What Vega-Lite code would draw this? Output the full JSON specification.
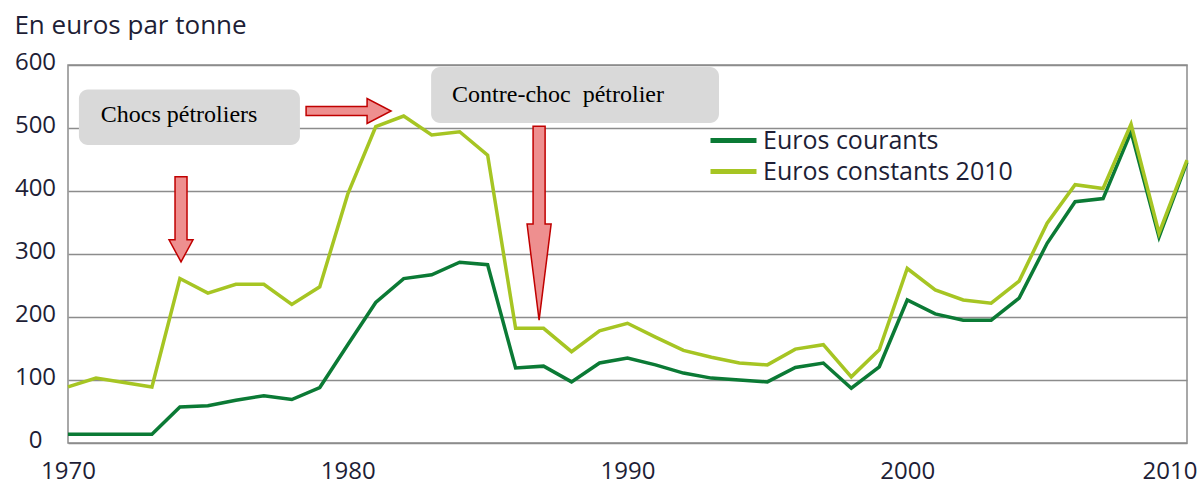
{
  "$schema": "https://vega.github.io/schema/vega-lite/v6.json",
  "width": 1119,
  "height": 378,
  "autosize": {"type": "none"},
  "padding": {"left": 68, "top": 65, "right": 15, "bottom": 41},
  "background": "white",
  "title": {"text": "En euros par tonne", "anchor": "start", "frame": "bounds", "fontSize": 26, "font": "Open Sans", "fontWeight": "normal", "color": "#1e1e36", "offset": 11},
  "config": {"view": {"stroke": "#8c8c8c", "strokeWidth": 1.5}, "font": "Open Sans"},
  "datasets": {
    "prix": [
      {"year": 1970, "serie": "Euros courants", "value": 14},
      {"year": 1971, "serie": "Euros courants", "value": 14},
      {"year": 1972, "serie": "Euros courants", "value": 14},
      {"year": 1973, "serie": "Euros courants", "value": 14},
      {"year": 1974, "serie": "Euros courants", "value": 57},
      {"year": 1975, "serie": "Euros courants", "value": 59},
      {"year": 1976, "serie": "Euros courants", "value": 68},
      {"year": 1977, "serie": "Euros courants", "value": 75},
      {"year": 1978, "serie": "Euros courants", "value": 69},
      {"year": 1979, "serie": "Euros courants", "value": 88},
      {"year": 1980, "serie": "Euros courants", "value": 156},
      {"year": 1981, "serie": "Euros courants", "value": 223},
      {"year": 1982, "serie": "Euros courants", "value": 261},
      {"year": 1983, "serie": "Euros courants", "value": 267},
      {"year": 1984, "serie": "Euros courants", "value": 287},
      {"year": 1985, "serie": "Euros courants", "value": 283},
      {"year": 1986, "serie": "Euros courants", "value": 119},
      {"year": 1987, "serie": "Euros courants", "value": 122},
      {"year": 1988, "serie": "Euros courants", "value": 97},
      {"year": 1989, "serie": "Euros courants", "value": 127},
      {"year": 1990, "serie": "Euros courants", "value": 135},
      {"year": 1991, "serie": "Euros courants", "value": 124},
      {"year": 1992, "serie": "Euros courants", "value": 111},
      {"year": 1993, "serie": "Euros courants", "value": 103},
      {"year": 1994, "serie": "Euros courants", "value": 100},
      {"year": 1995, "serie": "Euros courants", "value": 97},
      {"year": 1996, "serie": "Euros courants", "value": 120},
      {"year": 1997, "serie": "Euros courants", "value": 127},
      {"year": 1998, "serie": "Euros courants", "value": 87},
      {"year": 1999, "serie": "Euros courants", "value": 121},
      {"year": 2000, "serie": "Euros courants", "value": 227},
      {"year": 2001, "serie": "Euros courants", "value": 205},
      {"year": 2002, "serie": "Euros courants", "value": 195},
      {"year": 2003, "serie": "Euros courants", "value": 195},
      {"year": 2004, "serie": "Euros courants", "value": 230},
      {"year": 2005, "serie": "Euros courants", "value": 317},
      {"year": 2006, "serie": "Euros courants", "value": 383},
      {"year": 2007, "serie": "Euros courants", "value": 388},
      {"year": 2008, "serie": "Euros courants", "value": 494},
      {"year": 2009, "serie": "Euros courants", "value": 327},
      {"year": 2010, "serie": "Euros courants", "value": 446},
      {"year": 1970, "serie": "Euros constants 2010", "value": 89},
      {"year": 1971, "serie": "Euros constants 2010", "value": 103},
      {"year": 1972, "serie": "Euros constants 2010", "value": 96},
      {"year": 1973, "serie": "Euros constants 2010", "value": 89},
      {"year": 1974, "serie": "Euros constants 2010", "value": 261},
      {"year": 1975, "serie": "Euros constants 2010", "value": 238},
      {"year": 1976, "serie": "Euros constants 2010", "value": 252},
      {"year": 1977, "serie": "Euros constants 2010", "value": 252},
      {"year": 1978, "serie": "Euros constants 2010", "value": 220},
      {"year": 1979, "serie": "Euros constants 2010", "value": 248},
      {"year": 1980, "serie": "Euros constants 2010", "value": 395},
      {"year": 1981, "serie": "Euros constants 2010", "value": 502},
      {"year": 1982, "serie": "Euros constants 2010", "value": 519},
      {"year": 1983, "serie": "Euros constants 2010", "value": 489},
      {"year": 1984, "serie": "Euros constants 2010", "value": 494},
      {"year": 1985, "serie": "Euros constants 2010", "value": 457},
      {"year": 1986, "serie": "Euros constants 2010", "value": 182},
      {"year": 1987, "serie": "Euros constants 2010", "value": 182},
      {"year": 1988, "serie": "Euros constants 2010", "value": 145},
      {"year": 1989, "serie": "Euros constants 2010", "value": 178},
      {"year": 1990, "serie": "Euros constants 2010", "value": 190},
      {"year": 1991, "serie": "Euros constants 2010", "value": 168},
      {"year": 1992, "serie": "Euros constants 2010", "value": 147},
      {"year": 1993, "serie": "Euros constants 2010", "value": 136},
      {"year": 1994, "serie": "Euros constants 2010", "value": 127},
      {"year": 1995, "serie": "Euros constants 2010", "value": 124},
      {"year": 1996, "serie": "Euros constants 2010", "value": 149},
      {"year": 1997, "serie": "Euros constants 2010", "value": 156},
      {"year": 1998, "serie": "Euros constants 2010", "value": 105},
      {"year": 1999, "serie": "Euros constants 2010", "value": 148},
      {"year": 2000, "serie": "Euros constants 2010", "value": 277},
      {"year": 2001, "serie": "Euros constants 2010", "value": 243},
      {"year": 2002, "serie": "Euros constants 2010", "value": 227},
      {"year": 2003, "serie": "Euros constants 2010", "value": 222},
      {"year": 2004, "serie": "Euros constants 2010", "value": 257},
      {"year": 2005, "serie": "Euros constants 2010", "value": 349},
      {"year": 2006, "serie": "Euros constants 2010", "value": 410},
      {"year": 2007, "serie": "Euros constants 2010", "value": 404},
      {"year": 2008, "serie": "Euros constants 2010", "value": 506},
      {"year": 2009, "serie": "Euros constants 2010", "value": 333},
      {"year": 2010, "serie": "Euros constants 2010", "value": 449}
    ],
    "boites": [
      {"x1": 1970.39, "x2": 1978.29, "y1": 561, "y2": 473},
      {"x1": 1982.98, "x2": 1993.27, "y1": 597, "y2": 508}
    ],
    "textes": [
      {"year": 1971.17, "value": 509, "texte": "Chocs pétroliers"},
      {"year": 1983.73, "value": 541, "texte": "Contre-choc\u00a0 pétrolier"}
    ],
    "fleches": [
      {"sens": "droite", "year": 1980.03, "value": 527},
      {"sens": "bas1", "year": 1974.04, "value": 355},
      {"sens": "bas2", "year": 1986.84, "value": 349}
    ]
  },
  "layer": [
    {
      "data": {"name": "prix"},
      "mark": {"type": "line", "strokeWidth": 3.5},
      "encoding": {
        "x": {"field": "year", "type": "quantitative", "title": null,
          "scale": {"domain": [1970, 2010], "nice": false, "zero": false},
          "axis": {"values": [1970, 1980, 1990, 2000, 2010], "format": "d", "title": null, "grid": false, "ticks": false, "tickSize": 0, "domain": false,
            "labelFont": "Open Sans", "labelFontSize": 24, "labelColor": "#1e1e36", "labelPadding": 16,
            "labelAlign": {"condition": {"test": "datum.value == 2010", "value": "right"}, "value": "center"},
            "labelOffset": {"condition": {"test": "datum.value == 2010", "value": 10}, "value": 0},
            "labelBound": false, "labelOverlap": false}},
        "y": {"field": "value", "type": "quantitative", "title": null,
          "scale": {"domain": [0, 600], "nice": false},
          "axis": {"values": [0, 100, 200, 300, 400, 500, 600], "title": null, "grid": true, "gridColor": "#8c8c8c", "gridWidth": 1.5, "ticks": false, "tickSize": 0, "domain": false,
            "labelFont": "Open Sans", "labelFontSize": 24, "labelColor": "#1e1e36", "labelAlign": "center", "labelBaseline": "middle", "labelPadding": 33, "labelOffset": -3, "labelBound": false, "labelOverlap": false}},
        "color": {"field": "serie", "type": "nominal",
          "scale": {"domain": ["Euros courants", "Euros constants 2010"], "range": ["#0b7a35", "#a6c523"]},
          "legend": {"orient": "none", "legendX": 640, "legendY": 63, "title": null, "symbolType": "M-1,0L3.6,0", "symbolStrokeWidth": 5, "symbolSize": 400,
            "labelFont": "Open Sans", "labelFontSize": 25, "labelColor": "#1e1e36", "labelOffset": 30, "rowPadding": 5, "padding": 0, "labelLimit": 400}}
      }
    },
    {
      "data": {"name": "boites"},
      "mark": {"type": "rect", "fill": "#d9d9d9", "cornerRadius": 9},
      "encoding": {
        "x": {"field": "x1", "type": "quantitative", "title": null},
        "x2": {"field": "x2"},
        "y": {"field": "y1", "type": "quantitative", "title": null},
        "y2": {"field": "y2"}
      }
    },
    {
      "data": {"name": "textes"},
      "mark": {"type": "text", "font": "Liberation Serif", "fontSize": 24, "align": "left", "baseline": "alphabetic", "color": "#000000"},
      "encoding": {
        "x": {"field": "year", "type": "quantitative", "title": null},
        "y": {"field": "value", "type": "quantitative", "title": null},
        "text": {"field": "texte"}
      }
    },
    {
      "data": {"name": "fleches"},
      "transform": [{"filter": "datum.sens == 'droite'"}],
      "mark": {"type": "point", "filled": true, "fill": "#ee8f8f", "stroke": "#c00000", "strokeWidth": 1.5, "opacity": 1, "size": 7225,
        "shape": "M-1,-0.106L0.435,-0.106L0.435,-0.294L1,0L0.435,0.294L0.435,0.106L-1,0.106Z"},
      "encoding": {
        "x": {"field": "year", "type": "quantitative", "title": null},
        "y": {"field": "value", "type": "quantitative", "title": null}
      }
    },
    {
      "data": {"name": "fleches"},
      "transform": [{"filter": "datum.sens == 'bas1'"}],
      "mark": {"type": "point", "filled": true, "fill": "#ee8f8f", "stroke": "#c00000", "strokeWidth": 1.5, "opacity": 1, "size": 7225,
        "shape": "M-0.141,-1L0.141,-1L0.141,0.482L0.282,0.482L0,1L-0.282,0.482L-0.141,0.482Z"},
      "encoding": {
        "x": {"field": "year", "type": "quantitative", "title": null},
        "y": {"field": "value", "type": "quantitative", "title": null}
      }
    },
    {
      "data": {"name": "fleches"},
      "transform": [{"filter": "datum.sens == 'bas2'"}],
      "mark": {"type": "point", "filled": true, "fill": "#ee8f8f", "stroke": "#c00000", "strokeWidth": 1.5, "opacity": 1, "size": 37636,
        "shape": "M-0.062,-1L0.062,-1L0.062,0.01L0.124,0.01L0,1L-0.124,0.01L-0.062,0.01Z"},
      "encoding": {
        "x": {"field": "year", "type": "quantitative", "title": null},
        "y": {"field": "value", "type": "quantitative", "title": null}
      }
    }
  ]
}
